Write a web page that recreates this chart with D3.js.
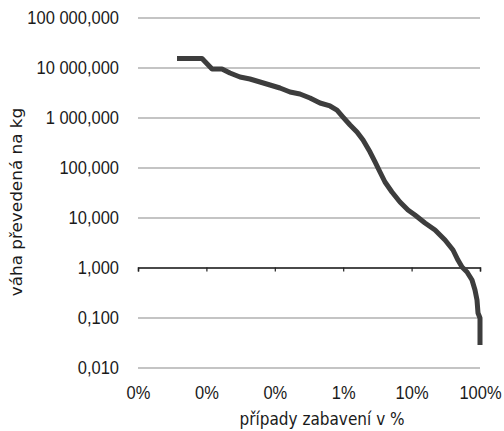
<!DOCTYPE html>
<html>
<head>
<meta charset="utf-8">
<script src="https://cdn.jsdelivr.net/npm/d3@7"></script>
<style>
  html, body { margin: 0; padding: 0; background: #fff; }
  svg { display: block; }
</style>
</head>
<body>
<svg id="chart" width="504" height="431"></svg>
<script>
// Share of seizure cases (fraction, cumulative from the largest) against seized weight in kg
const caseShare = [
  0.0000372, 0.0000863, 0.000121, 0.000169, 0.000221, 0.000310, 0.000433, 0.000608,
  0.000851, 0.00119, 0.00167, 0.00233, 0.00327, 0.00458, 0.00641, 0.00811,
  0.00993, 0.0126, 0.0159, 0.0195, 0.0247, 0.0292, 0.0345, 0.0408,
  0.0516, 0.0676, 0.0885, 0.112, 0.157, 0.220, 0.308, 0.403,
  0.476, 0.546, 0.646, 0.764, 0.845, 0.904, 0.935, 1.0, 1.0
];
const weightKg = [
  15100, 15100, 9330, 9330, 7760, 6460, 5890, 5130,
  4470, 3890, 3240, 2950, 2450, 1950, 1700, 1410,
  1020, 708, 513, 355, 204, 129, 81.3, 51.3,
  32.4, 20.4, 14.1, 11.2, 7.76, 5.62, 3.55, 2.24,
  1.41, 1.02, 0.813, 0.562, 0.355, 0.224, 0.123, 0.0977, 0.0282
];
const xTicks = [0.00001, 0.0001, 0.001, 0.01, 0.1, 1];
const yTicks = [0.01, 0.1, 1, 10, 100, 1000, 10000, 100000];
const xTitle = "případy zabavení v %";
const yTitle = "váha převedená na kg";

const svg = d3.select("#chart");
const plotLeft = 138, plotRight = 480, plotTop = 17.5, plotBottom = 367.5;

const x = d3.scaleLog().domain([0.00001, 1]).range([plotLeft, plotRight]);
const y = d3.scaleLog().domain([0.01, 100000]).range([plotBottom, plotTop]);

const cz = d3.formatLocale({ decimal: ",", thousands: " ", grouping: [3], currency: ["", " Kč"] });
const yFmt = cz.format(",.3f");
const xFmt = d3.format(".0%");

const tickFont = "'Liberation Sans', Arial, sans-serif";
const titleFont = "'DejaVu Sans', Verdana, sans-serif";

// horizontal gridlines with value labels
const yAxis = svg.append("g")
  .attr("transform", `translate(${plotLeft},0)`)
  .call(d3.axisLeft(y).tickValues(yTicks).tickFormat(yFmt).tickSize(-(plotRight - plotLeft)));
yAxis.select(".domain").remove();
yAxis.selectAll(".tick line").attr("stroke", "#b0b0b0").attr("stroke-width", 1.5);
yAxis.selectAll(".tick text")
  .attr("x", null).attr("dy", null)
  .attr("transform", "translate(-19,6) scale(1,1.1)")
  .attr("fill", "#1a1a1a")
  .style("font-family", tickFont).style("font-size", "16.5px");

// category axis line crossing at 1 kg
const xAxis = svg.append("g")
  .attr("transform", `translate(0,${y(1)})`)
  .call(d3.axisBottom(x).tickValues(xTicks).tickFormat("").tickSizeOuter(0).tickSize(4));
xAxis.select(".domain").attr("stroke", "#222").attr("stroke-width", 1.5);
xAxis.selectAll(".tick line").attr("stroke", "#222").attr("stroke-width", 1.2);

// percentage labels along the bottom
const xLabels = svg.append("g")
  .attr("transform", `translate(0,${plotBottom})`)
  .call(d3.axisBottom(x).tickValues(xTicks).tickFormat(xFmt).tickSize(0));
xLabels.select(".domain").remove();
xLabels.selectAll(".tick text")
  .attr("y", null).attr("dy", null)
  .attr("transform", "translate(0,31.5) scale(1,1.1)")
  .attr("fill", "#1a1a1a")
  .style("font-family", tickFont).style("font-size", "16.5px");

// distribution curve
const pts = caseShare.map((c, i) => [c, weightKg[i]]);
svg.append("path")
  .datum(pts)
  .attr("fill", "none")
  .attr("stroke", "#3d3d3d")
  .attr("stroke-width", 5)
  .attr("stroke-linejoin", "round")
  .attr("d", d3.line().x(d => x(d[0])).y(d => y(d[1])));

// axis titles
svg.append("text")
  .attr("transform", "translate(322,425) scale(1,1.1)")
  .attr("text-anchor", "middle")
  .attr("fill", "#1a1a1a")
  .style("font-family", titleFont).style("font-size", "15.3px")
  .text(xTitle);

svg.append("text")
  .attr("transform", "translate(22,202) scale(1,1.1) rotate(-90)")
  .attr("text-anchor", "middle")
  .attr("fill", "#1a1a1a")
  .style("font-family", titleFont).style("font-size", "15.3px")
  .text(yTitle);
</script>
</body>
</html>
